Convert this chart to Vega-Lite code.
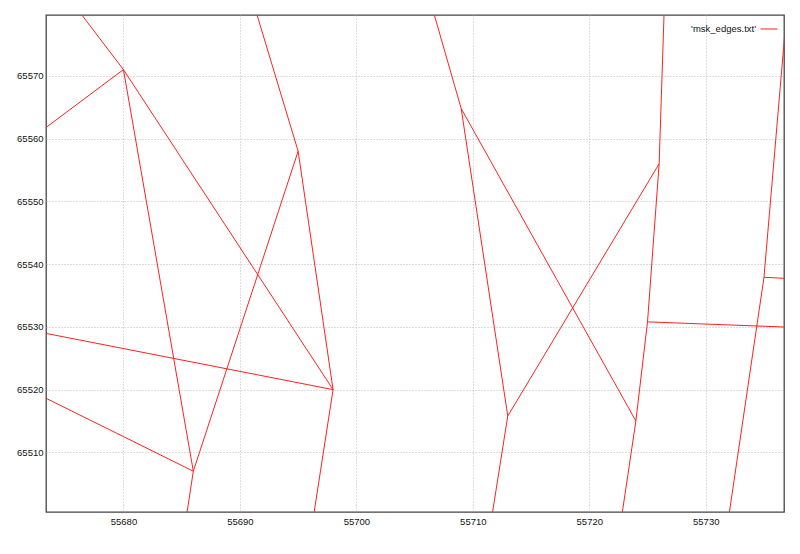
{
  "$schema": "https://vega.github.io/schema/vega-lite/v6.json",
  "width": 738,
  "height": 497,
  "autosize": {"type": "none"},
  "padding": {"left": 46, "top": 15, "right": 16, "bottom": 42},
  "background": "white",
  "config": {
    "font": "Liberation Sans",
    "view": {"stroke": "#444444", "strokeWidth": 1.3, "fill": "white"},
    "axis": {
      "grid": true,
      "gridColor": "#a8a8a8",
      "gridDash": [1, 2],
      "gridWidth": 0.8,
      "domain": false,
      "ticks": false,
      "labelFont": "Liberation Sans",
      "labelFontSize": 9.5,
      "labelColor": "#111111",
      "title": null
    }
  },
  "data": {
    "values": [
      {"file": "'msk_edges.txt'", "xa": 55680, "ya": 65571, "xb": 55672.2, "yb": 65590},
      {"file": "'msk_edges.txt'", "xa": 55680, "ya": 65571, "xb": 55698, "yb": 65520},
      {"file": "'msk_edges.txt'", "xa": 55680, "ya": 65571, "xb": 55665, "yb": 65550.2},
      {"file": "'msk_edges.txt'", "xa": 55680, "ya": 65571, "xb": 55686, "yb": 65507},
      {"file": "'msk_edges.txt'", "xa": 55686, "ya": 65507, "xb": 55684.6, "yb": 65490},
      {"file": "'msk_edges.txt'", "xa": 55686, "ya": 65507, "xb": 55695, "yb": 65558},
      {"file": "'msk_edges.txt'", "xa": 55695, "ya": 65558, "xb": 55689.8, "yb": 65590},
      {"file": "'msk_edges.txt'", "xa": 55695, "ya": 65558, "xb": 55698, "yb": 65520},
      {"file": "'msk_edges.txt'", "xa": 55698, "ya": 65520, "xb": 55665, "yb": 65532},
      {"file": "'msk_edges.txt'", "xa": 55686, "ya": 65507, "xb": 55665, "yb": 65526.3},
      {"file": "'msk_edges.txt'", "xa": 55698, "ya": 65520, "xb": 55695.5, "yb": 65490},
      {"file": "'msk_edges.txt'", "xa": 55709, "ya": 65564.8, "xb": 55705.1, "yb": 65590},
      {"file": "'msk_edges.txt'", "xa": 55709, "ya": 65564.8, "xb": 55713, "yb": 65515.8},
      {"file": "'msk_edges.txt'", "xa": 55709, "ya": 65564.8, "xb": 55724, "yb": 65515},
      {"file": "'msk_edges.txt'", "xa": 55713, "ya": 65515.8, "xb": 55726, "yb": 65556},
      {"file": "'msk_edges.txt'", "xa": 55713, "ya": 65515.8, "xb": 55710.8, "yb": 65490},
      {"file": "'msk_edges.txt'", "xa": 55726, "ya": 65556, "xb": 55726.6, "yb": 65590},
      {"file": "'msk_edges.txt'", "xa": 55726, "ya": 65556, "xb": 55725, "yb": 65530.8},
      {"file": "'msk_edges.txt'", "xa": 55725, "ya": 65530.8, "xb": 55724, "yb": 65515},
      {"file": "'msk_edges.txt'", "xa": 55725, "ya": 65530.8, "xb": 55745, "yb": 65529.4},
      {"file": "'msk_edges.txt'", "xa": 55724, "ya": 65515, "xb": 55722, "yb": 65490},
      {"file": "'msk_edges.txt'", "xa": 55735, "ya": 65537.9, "xb": 55731.2, "yb": 65490},
      {"file": "'msk_edges.txt'", "xa": 55735, "ya": 65537.9, "xb": 55737.4, "yb": 65590},
      {"file": "'msk_edges.txt'", "xa": 55735, "ya": 65537.9, "xb": 55745, "yb": 65537}
    ]
  },
  "mark": {"type": "rule", "clip": true, "strokeWidth": 1},
  "encoding": {
    "x": {
      "field": "xa", "type": "quantitative",
      "scale": {"domain": [55673.35, 55736.72], "nice": false, "zero": false},
      "axis": {"values": [55680, 55690, 55700, 55710, 55720, 55730], "labelPadding": 4, "format": "d"}
    },
    "y": {
      "field": "ya", "type": "quantitative",
      "scale": {"domain": [65500.5, 65579.7], "nice": false, "zero": false},
      "axis": {"values": [65510, 65520, 65530, 65540, 65550, 65560, 65570], "labelPadding": 3, "format": "d"}
    },
    "x2": {"field": "xb"},
    "y2": {"field": "yb"},
    "color": {
      "field": "file", "type": "nominal",
      "scale": {"range": ["#ff2020"]},
      "legend": {
        "title": null,
        "orient": "none",
        "legendX": 714,
        "legendY": 5,
        "padding": 0,
        "symbolType": "stroke",
        "symbolSize": 289,
        "symbolStrokeWidth": 1,
        "labelAlign": "right",
        "labelOffset": -22,
        "labelFontSize": 9.5,
        "labelColor": "#111111",
        "labelFont": "Liberation Sans"
      }
    }
  }
}
